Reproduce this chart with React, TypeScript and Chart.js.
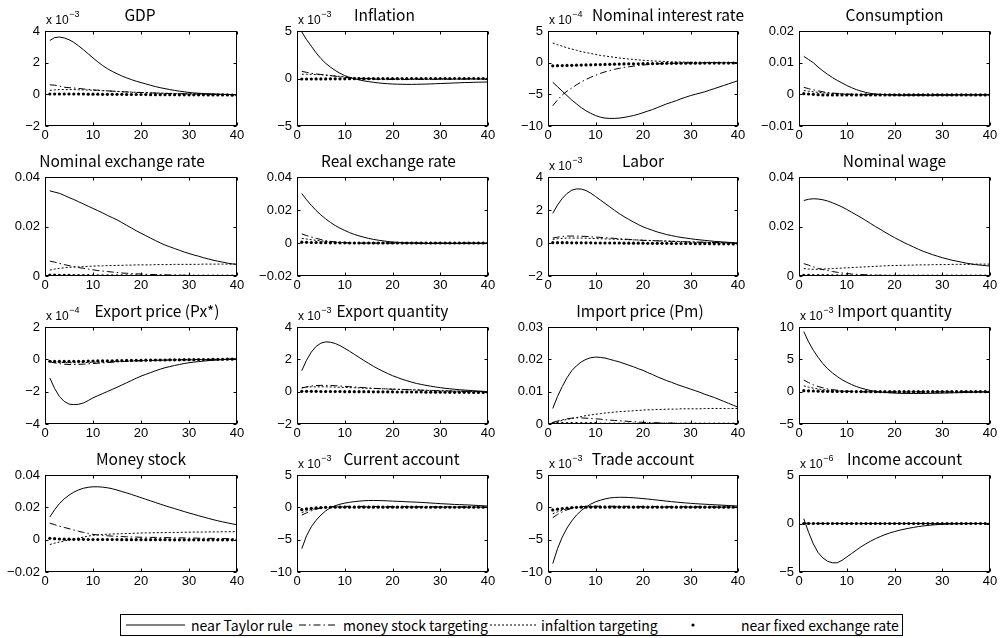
import React, { useEffect, useRef } from "react";
import { Chart, registerables } from "chart.js";

Chart.register(...registerables);

// ---------------- data ----------------
const periods = [1, 2, 3, 4, 5, 6, 7, 8, 9, 10, 11, 12, 13, 14, 15, 16, 17, 18, 19, 20, 21, 22, 23, 24, 25, 26, 27, 28, 29, 30, 31, 32, 33, 34, 35, 36, 37, 38, 39, 40];
const xTicks = [0, 10, 20, 30, 40];

const seriesNames = ["near Taylor rule", "money stock targeting", "infaltion targeting", "near fixed exchange rate"];

// GDP (x 10^-3)
const gdpTicks = [-2, 0, 2, 4];
const gdpTaylor = [3.40, 3.58, 3.62, 3.56, 3.45, 3.28, 3.06, 2.82, 2.56, 2.30, 2.05, 1.82, 1.62, 1.45, 1.30, 1.16, 1.04, 0.93, 0.83, 0.74, 0.66, 0.57, 0.49, 0.42, 0.36, 0.30, 0.25, 0.20, 0.16, 0.12, 0.09, 0.07, 0.05, 0.03, 0.02, 0.01, 0.00, -0.01, -0.02, -0.03];
const gdpMoney = [0.60, 0.58, 0.52, 0.45, 0.42, 0.40, 0.37, 0.34, 0.31, 0.28, 0.26, 0.24, 0.22, 0.20, 0.18, 0.16, 0.15, 0.13, 0.12, 0.11, 0.10, 0.09, 0.08, 0.07, 0.06, 0.05, 0.05, 0.04, 0.03, 0.03, 0.02, 0.02, 0.01, 0.01, 0.00, 0.00, -0.01, -0.01, -0.02, -0.02];
const gdpInfl = [0.25, 0.28, 0.30, 0.30, 0.30, 0.30, 0.29, 0.28, 0.27, 0.26, 0.25, 0.23, 0.22, 0.20, 0.19, 0.17, 0.16, 0.14, 0.13, 0.12, 0.11, 0.10, 0.09, 0.08, 0.07, 0.06, 0.05, 0.04, 0.04, 0.03, 0.03, 0.02, 0.02, 0.01, 0.01, 0.00, 0.00, -0.01, -0.01, -0.02];
const gdpFixed = [0.02, 0.02, 0.02, 0.02, 0.02, 0.02, 0.02, 0.02, 0.01, 0.01, 0.01, 0.00, 0.00, 0.00, 0.00, 0.00, -0.01, -0.01, -0.01, -0.01, -0.01, -0.02, -0.02, -0.02, -0.02, -0.02, -0.02, -0.03, -0.03, -0.03, -0.03, -0.03, -0.03, -0.04, -0.04, -0.04, -0.04, -0.04, -0.05, -0.05];

// Inflation (x 10^-3)
const inflTicks = [-5, 0, 5];
const inflTaylor = [4.90, 4.10, 3.40, 2.70, 2.10, 1.60, 1.20, 0.85, 0.55, 0.30, 0.12, -0.02, -0.14, -0.25, -0.33, -0.40, -0.46, -0.51, -0.55, -0.58, -0.60, -0.61, -0.62, -0.62, -0.61, -0.60, -0.59, -0.57, -0.55, -0.53, -0.51, -0.49, -0.47, -0.45, -0.43, -0.42, -0.40, -0.39, -0.38, -0.37];
const inflMoney = [0.75, 0.65, 0.55, 0.48, 0.42, 0.36, 0.30, 0.24, 0.18, 0.12, 0.07, 0.03, 0.00, -0.03, -0.05, -0.07, -0.08, -0.09, -0.10, -0.10, -0.10, -0.10, -0.10, -0.10, -0.10, -0.10, -0.09, -0.09, -0.09, -0.08, -0.08, -0.08, -0.07, -0.07, -0.07, -0.06, -0.06, -0.06, -0.05, -0.05];
const inflInfl = [0.45, 0.45, 0.44, 0.42, 0.40, 0.36, 0.32, 0.27, 0.22, 0.17, 0.12, 0.08, 0.05, 0.02, 0.00, -0.02, -0.03, -0.04, -0.04, -0.05, -0.05, -0.05, -0.05, -0.05, -0.05, -0.05, -0.05, -0.04, -0.04, -0.04, -0.04, -0.04, -0.03, -0.03, -0.03, -0.03, -0.03, -0.02, -0.02, -0.02];
const inflFixed = [-0.05, -0.05, -0.05, -0.04, -0.04, -0.04, -0.03, -0.03, -0.03, -0.03, -0.02, -0.02, -0.02, -0.02, -0.02, -0.01, -0.01, -0.01, -0.01, -0.01, -0.01, -0.01, -0.01, 0.00, 0.00, 0.00, 0.00, 0.00, 0.00, 0.00, 0.00, 0.00, 0.00, 0.00, 0.00, 0.00, 0.00, 0.00, 0.00, 0.00];

// Nominal interest rate (x 10^-4)
const nirTicks = [-10, -5, 0, 5];
const nirTaylor = [-3.10, -3.80, -4.50, -5.20, -5.90, -6.50, -7.10, -7.60, -8.00, -8.35, -8.60, -8.75, -8.80, -8.80, -8.75, -8.65, -8.50, -8.35, -8.15, -7.90, -7.65, -7.40, -7.10, -6.80, -6.50, -6.25, -6.00, -5.70, -5.45, -5.20, -5.00, -4.80, -4.60, -4.35, -4.10, -3.85, -3.60, -3.35, -3.10, -2.85];
const nirMoney = [-6.80, -5.90, -5.10, -4.50, -4.00, -3.50, -3.05, -2.65, -2.30, -2.00, -1.70, -1.45, -1.25, -1.05, -0.90, -0.75, -0.65, -0.55, -0.45, -0.38, -0.30, -0.25, -0.20, -0.15, -0.12, -0.10, -0.08, -0.06, -0.05, -0.04, -0.03, -0.03, -0.02, -0.02, -0.02, -0.01, -0.01, -0.01, -0.01, 0.00];
const nirInfl = [3.10, 2.85, 2.60, 2.35, 2.15, 1.95, 1.75, 1.60, 1.45, 1.30, 1.15, 1.05, 0.95, 0.85, 0.75, 0.65, 0.58, 0.50, 0.44, 0.38, 0.33, 0.28, 0.24, 0.20, 0.17, 0.14, 0.12, 0.10, 0.08, 0.06, 0.05, 0.04, 0.03, 0.03, 0.02, 0.02, 0.01, 0.01, 0.01, 0.00];
const nirFixed = [-0.50, -0.48, -0.46, -0.44, -0.42, -0.40, -0.38, -0.36, -0.34, -0.32, -0.30, -0.28, -0.26, -0.24, -0.22, -0.20, -0.19, -0.18, -0.17, -0.16, -0.15, -0.14, -0.13, -0.12, -0.11, -0.10, -0.10, -0.09, -0.09, -0.08, -0.08, -0.08, -0.07, -0.07, -0.07, -0.06, -0.06, -0.06, -0.05, -0.05];

// Consumption
const consTicks = [-0.01, 0, 0.01, 0.02];
const consTaylor = [0.0120, 0.0110, 0.0100, 0.0086, 0.0074, 0.0063, 0.0053, 0.0044, 0.0036, 0.0028, 0.0021, 0.0015, 0.0010, 0.0006, 0.0003, 0.0001, 0.0000, -0.0001, -0.0002, -0.0002, -0.0003, -0.0003, -0.0003, -0.0003, -0.0003, -0.0003, -0.0003, -0.0003, -0.0003, -0.0003, -0.0003, -0.0003, -0.0002, -0.0002, -0.0002, -0.0002, -0.0002, -0.0002, -0.0002, -0.0002];
const consMoney = [0.0022, 0.0018, 0.0014, 0.0011, 0.0008, 0.0006, 0.0004, 0.0003, 0.0002, 0.0001, 0.0000, 0.0000, -0.0001, -0.0001, -0.0001, -0.0001, -0.0001, -0.0001, -0.0001, -0.0001, -0.0001, -0.0001, -0.0001, -0.0001, -0.0001, -0.0001, -0.0001, -0.0001, -0.0001, -0.0001, -0.0001, -0.0001, -0.0001, -0.0001, -0.0001, -0.0001, -0.0001, -0.0001, -0.0001, -0.0001];
const consInfl = [0.0012, 0.0010, 0.0008, 0.0006, 0.0005, 0.0004, 0.0003, 0.0002, 0.0001, 0.0000, 0.0000, -0.0001, -0.0001, -0.0001, -0.0001, -0.0001, -0.0001, -0.0001, -0.0001, -0.0001, -0.0001, -0.0001, -0.0001, -0.0001, -0.0001, -0.0001, -0.0001, -0.0001, -0.0001, -0.0001, -0.0001, -0.0001, -0.0001, -0.0001, -0.0001, -0.0001, -0.0001, -0.0001, -0.0001, -0.0001];
const consFixed = [0.0002, 0.0001, 0.0000, -0.0001, -0.0002, -0.0002, -0.0002, -0.0002, -0.0002, -0.0002, -0.0002, -0.0002, -0.0002, -0.0002, -0.0002, -0.0002, -0.0002, -0.0002, -0.0002, -0.0002, -0.0002, -0.0002, -0.0002, -0.0002, -0.0002, -0.0002, -0.0002, -0.0002, -0.0002, -0.0002, -0.0002, -0.0002, -0.0002, -0.0002, -0.0002, -0.0002, -0.0002, -0.0002, -0.0002, -0.0002];

// Nominal exchange rate
const nerTicks = [0, 0.02, 0.04];
const nerTaylor = [0.0344, 0.0339, 0.0334, 0.0326, 0.0317, 0.0309, 0.0300, 0.0291, 0.0282, 0.0273, 0.0264, 0.0255, 0.0245, 0.0236, 0.0227, 0.0216, 0.0205, 0.0194, 0.0183, 0.0173, 0.0163, 0.0153, 0.0143, 0.0134, 0.0125, 0.0118, 0.0111, 0.0104, 0.0097, 0.0091, 0.0085, 0.0080, 0.0074, 0.0069, 0.0064, 0.0060, 0.0056, 0.0052, 0.0049, 0.0047];
const nerMoney = [0.0060, 0.0056, 0.0051, 0.0046, 0.0042, 0.0038, 0.0034, 0.0031, 0.0028, 0.0025, 0.0022, 0.0020, 0.0018, 0.0016, 0.0014, 0.0012, 0.0011, 0.0010, 0.0009, 0.0008, 0.0007, 0.0006, 0.0006, 0.0005, 0.0005, 0.0004, 0.0004, 0.0003, 0.0003, 0.0003, 0.0002, 0.0002, 0.0002, 0.0002, 0.0002, 0.0001, 0.0001, 0.0001, 0.0001, 0.0001];
const nerInfl = [0.0024, 0.0028, 0.0031, 0.0033, 0.0035, 0.0036, 0.0037, 0.0038, 0.0039, 0.0040, 0.0041, 0.0041, 0.0042, 0.0042, 0.0043, 0.0043, 0.0044, 0.0044, 0.0045, 0.0045, 0.0045, 0.0045, 0.0046, 0.0046, 0.0046, 0.0046, 0.0047, 0.0047, 0.0047, 0.0047, 0.0047, 0.0047, 0.0048, 0.0048, 0.0048, 0.0048, 0.0048, 0.0048, 0.0048, 0.0048];
const nerFixed = [0.0004, 0.0004, 0.0003, 0.0003, 0.0003, 0.0002, 0.0002, 0.0002, 0.0002, 0.0001, 0.0001, 0.0001, 0.0001, 0.0001, 0.0001, 0.0001, 0.0001, 0.0001, 0.0001, 0.0001, 0, 0, 0, 0, 0, 0, 0, 0, 0, 0, 0, 0, 0, 0, 0, 0, 0, 0, 0, 0];

// Real exchange rate
const rerTicks = [-0.02, 0, 0.02, 0.04];
const rerTaylor = [0.0300, 0.0262, 0.0228, 0.0197, 0.0170, 0.0146, 0.0125, 0.0106, 0.0090, 0.0076, 0.0063, 0.0052, 0.0043, 0.0035, 0.0028, 0.0022, 0.0017, 0.0013, 0.0009, 0.0006, 0.0004, 0.0002, 0.0001, 0.0000, -0.0001, -0.0002, -0.0002, -0.0003, -0.0003, -0.0003, -0.0003, -0.0003, -0.0003, -0.0003, -0.0003, -0.0002, -0.0002, -0.0002, -0.0002, -0.0002];
const rerMoney = [0.0055, 0.0045, 0.0036, 0.0028, 0.0021, 0.0015, 0.0010, 0.0006, 0.0003, 0.0001, 0.0000, -0.0001, -0.0001, -0.0001, -0.0001, -0.0001, -0.0001, -0.0001, -0.0001, -0.0001, -0.0001, -0.0001, -0.0001, -0.0001, -0.0001, -0.0001, -0.0001, -0.0001, -0.0001, -0.0001, -0.0001, -0.0001, -0.0001, -0.0001, -0.0001, -0.0001, -0.0001, -0.0001, -0.0001, -0.0001];
const rerInfl = [0.0028, 0.0024, 0.0020, 0.0016, 0.0013, 0.0010, 0.0007, 0.0005, 0.0003, 0.0002, 0.0001, 0, 0, 0, 0, 0, 0, 0, 0, 0, 0, 0, 0, 0, 0, 0, 0, 0, 0, 0, 0, 0, 0, 0, 0, 0, 0, 0, 0, 0];
const rerFixed = [0.0005, 0.0004, 0.0003, 0.0003, 0.0002, 0.0002, 0.0001, 0.0001, 0.0001, 0.0001, 0, 0, 0, 0, 0, 0, 0, 0, 0, 0, 0, 0, 0, 0, 0, 0, 0, 0, 0, 0, 0, 0, 0, 0, 0, 0, 0, 0, 0, 0];

// Labor (x 10^-3)
const labTicks = [-2, 0, 2, 4];
const labTaylor = [1.80, 2.30, 2.70, 3.00, 3.20, 3.28, 3.27, 3.18, 3.02, 2.82, 2.61, 2.40, 2.19, 1.98, 1.78, 1.60, 1.43, 1.27, 1.12, 0.98, 0.87, 0.77, 0.67, 0.59, 0.51, 0.45, 0.39, 0.34, 0.30, 0.26, 0.22, 0.19, 0.16, 0.13, 0.10, 0.08, 0.06, 0.04, 0.02, 0.00];
const labMoney = [0.30, 0.35, 0.40, 0.42, 0.42, 0.42, 0.41, 0.40, 0.38, 0.36, 0.34, 0.32, 0.30, 0.28, 0.26, 0.24, 0.22, 0.20, 0.18, 0.16, 0.15, 0.14, 0.13, 0.12, 0.11, 0.10, 0.09, 0.08, 0.07, 0.06, 0.05, 0.05, 0.04, 0.03, 0.03, 0.02, 0.01, 0.01, 0.00, 0.00];
const labInfl = [0.22, 0.26, 0.28, 0.30, 0.30, 0.30, 0.30, 0.29, 0.28, 0.27, 0.26, 0.25, 0.24, 0.23, 0.22, 0.21, 0.20, 0.19, 0.18, 0.17, 0.16, 0.15, 0.14, 0.13, 0.12, 0.11, 0.10, 0.09, 0.08, 0.07, 0.06, 0.05, 0.05, 0.04, 0.03, 0.03, 0.02, 0.01, 0.01, 0.00];
const labFixed = [0.02, 0.02, 0.02, 0.02, 0.01, 0.01, 0.01, 0.01, 0.01, 0.00, 0.00, 0.00, 0.00, 0.00, 0.00, -0.01, -0.01, -0.01, -0.01, -0.01, -0.02, -0.02, -0.02, -0.02, -0.02, -0.03, -0.03, -0.03, -0.03, -0.03, -0.04, -0.04, -0.04, -0.04, -0.05, -0.05, -0.05, -0.05, -0.06, -0.06];

// Nominal wage
const nwTicks = [0, 0.02, 0.04];
const nwTaylor = [0.0305, 0.0310, 0.0312, 0.0311, 0.0308, 0.0303, 0.0296, 0.0288, 0.0279, 0.0269, 0.0258, 0.0247, 0.0236, 0.0224, 0.0212, 0.0200, 0.0189, 0.0177, 0.0166, 0.0155, 0.0145, 0.0135, 0.0126, 0.0117, 0.0108, 0.0100, 0.0093, 0.0086, 0.0080, 0.0074, 0.0069, 0.0064, 0.0060, 0.0056, 0.0052, 0.0049, 0.0046, 0.0044, 0.0042, 0.0040];
const nwMoney = [0.0050, 0.0044, 0.0037, 0.0031, 0.0026, 0.0022, 0.0018, 0.0015, 0.0012, 0.0010, 0.0008, 0.0007, 0.0006, 0.0005, 0.0004, 0.0003, 0.0003, 0.0003, 0.0002, 0.0002, 0.0002, 0.0002, 0.0002, 0.0001, 0.0001, 0.0001, 0.0001, 0.0001, 0.0001, 0.0001, 0.0001, 0.0001, 0.0001, 0.0001, 0.0001, 0.0001, 0.0001, 0.0001, 0.0001, 0.0001];
const nwInfl = [0.0030, 0.0028, 0.0027, 0.0027, 0.0028, 0.0029, 0.0030, 0.0031, 0.0032, 0.0033, 0.0034, 0.0035, 0.0036, 0.0037, 0.0038, 0.0039, 0.0040, 0.0041, 0.0042, 0.0042, 0.0043, 0.0043, 0.0044, 0.0044, 0.0045, 0.0045, 0.0045, 0.0046, 0.0046, 0.0046, 0.0046, 0.0047, 0.0047, 0.0047, 0.0047, 0.0047, 0.0048, 0.0048, 0.0048, 0.0048];
const nwFixed = [0.0003, 0.0003, 0.0002, 0.0002, 0.0002, 0.0002, 0.0001, 0.0001, 0.0001, 0.0001, 0, 0, 0, 0, 0, 0, 0, 0, 0, 0, 0, 0, 0, 0, 0, 0, 0, 0, 0, 0, 0, 0, 0, 0, 0, 0, 0, 0, 0, 0];

// Export price Px* (x 10^-4)
const epTicks = [-4, -2, 0, 2];
const epTaylor = [-1.15, -1.80, -2.30, -2.60, -2.77, -2.80, -2.78, -2.70, -2.55, -2.38, -2.25, -2.12, -1.99, -1.86, -1.73, -1.59, -1.45, -1.31, -1.17, -1.04, -0.93, -0.82, -0.71, -0.61, -0.52, -0.45, -0.38, -0.32, -0.26, -0.21, -0.17, -0.14, -0.11, -0.08, -0.06, -0.04, -0.02, 0.00, 0.02, 0.04];
const epMoney = [-0.15, -0.22, -0.27, -0.30, -0.32, -0.32, -0.31, -0.30, -0.28, -0.26, -0.24, -0.22, -0.20, -0.18, -0.16, -0.14, -0.12, -0.11, -0.10, -0.09, -0.08, -0.07, -0.06, -0.05, -0.04, -0.04, -0.03, -0.03, -0.02, -0.02, -0.01, -0.01, -0.01, 0.00, 0.00, 0.00, 0.00, 0.00, 0.01, 0.01];
const epInfl = [-0.10, -0.15, -0.18, -0.20, -0.21, -0.21, -0.21, -0.20, -0.19, -0.18, -0.17, -0.16, -0.15, -0.14, -0.13, -0.12, -0.11, -0.10, -0.09, -0.08, -0.07, -0.07, -0.06, -0.06, -0.05, -0.05, -0.04, -0.04, -0.03, -0.03, -0.03, -0.02, -0.02, -0.02, -0.01, -0.01, -0.01, 0.00, 0.00, 0.00];
const epFixed = [-0.12, -0.13, -0.13, -0.13, -0.13, -0.12, -0.12, -0.12, -0.11, -0.11, -0.10, -0.10, -0.09, -0.09, -0.08, -0.08, -0.07, -0.07, -0.06, -0.06, -0.05, -0.05, -0.04, -0.04, -0.04, -0.03, -0.03, -0.03, -0.02, -0.02, -0.02, -0.01, -0.01, -0.01, 0.00, 0.00, 0.00, 0.01, 0.01, 0.01];

// Export quantity (x 10^-3)
const eqTicks = [-2, 0, 2, 4];
const eqTaylor = [1.30, 1.95, 2.45, 2.80, 3.00, 3.08, 3.06, 2.98, 2.85, 2.68, 2.50, 2.31, 2.12, 1.93, 1.75, 1.57, 1.41, 1.26, 1.12, 0.99, 0.88, 0.77, 0.68, 0.59, 0.51, 0.45, 0.39, 0.34, 0.29, 0.25, 0.21, 0.18, 0.15, 0.12, 0.10, 0.08, 0.06, 0.04, 0.02, 0.00];
const eqMoney = [0.22, 0.30, 0.35, 0.38, 0.39, 0.39, 0.38, 0.37, 0.35, 0.33, 0.31, 0.29, 0.27, 0.25, 0.23, 0.21, 0.19, 0.18, 0.16, 0.15, 0.14, 0.13, 0.12, 0.11, 0.10, 0.09, 0.08, 0.07, 0.06, 0.05, 0.05, 0.04, 0.03, 0.03, 0.02, 0.02, 0.01, 0.01, 0.00, 0.00];
const eqInfl = [0.25, 0.28, 0.30, 0.30, 0.30, 0.30, 0.29, 0.28, 0.27, 0.26, 0.25, 0.24, 0.23, 0.22, 0.21, 0.20, 0.19, 0.18, 0.17, 0.16, 0.15, 0.14, 0.13, 0.12, 0.11, 0.10, 0.09, 0.08, 0.07, 0.06, 0.06, 0.05, 0.04, 0.04, 0.03, 0.03, 0.02, 0.01, 0.01, 0.00];
const eqFixed = [0.02, 0.02, 0.02, 0.02, 0.01, 0.01, 0.01, 0.01, 0.01, 0.00, 0.00, 0.00, 0.00, 0.00, 0.00, -0.01, -0.01, -0.01, -0.01, -0.01, -0.02, -0.02, -0.02, -0.02, -0.02, -0.02, -0.03, -0.03, -0.03, -0.03, -0.03, -0.04, -0.04, -0.04, -0.04, -0.04, -0.05, -0.05, -0.05, -0.05];

// Import price Pm
const ipTicks = [0, 0.01, 0.02, 0.03];
const ipTaylor = [0.0048, 0.0085, 0.0116, 0.0143, 0.0165, 0.0180, 0.0192, 0.0200, 0.0205, 0.0207, 0.0206, 0.0204, 0.0200, 0.0196, 0.0192, 0.0187, 0.0182, 0.0177, 0.0171, 0.0166, 0.0159, 0.0153, 0.0146, 0.0140, 0.0134, 0.0129, 0.0123, 0.0118, 0.0113, 0.0108, 0.0103, 0.0098, 0.0092, 0.0087, 0.0082, 0.0076, 0.0070, 0.0064, 0.0058, 0.0052];
const ipMoney = [0.0005, 0.0009, 0.0013, 0.0016, 0.0018, 0.0019, 0.0019, 0.0018, 0.0017, 0.0016, 0.0015, 0.0013, 0.0012, 0.0011, 0.0010, 0.0009, 0.0008, 0.0007, 0.0006, 0.0005, 0.0005, 0.0004, 0.0004, 0.0003, 0.0003, 0.0003, 0.0002, 0.0002, 0.0002, 0.0002, 0.0001, 0.0001, 0.0001, 0.0001, 0.0001, 0.0001, 0.0001, 0.0000, 0.0000, 0.0000];
const ipInfl = [0.0003, 0.0007, 0.0011, 0.0014, 0.0017, 0.0020, 0.0023, 0.0026, 0.0028, 0.0030, 0.0032, 0.0034, 0.0035, 0.0037, 0.0038, 0.0039, 0.0040, 0.0041, 0.0042, 0.0043, 0.0044, 0.0044, 0.0045, 0.0045, 0.0046, 0.0046, 0.0046, 0.0047, 0.0047, 0.0047, 0.0047, 0.0047, 0.0048, 0.0048, 0.0048, 0.0048, 0.0048, 0.0048, 0.0048, 0.0048];
const ipFixed = [0.0001, 0.0001, 0.0001, 0.0001, 0.0001, 0.0001, 0.0001, 0.0001, 0.0001, 0.0001, 0, 0, 0, 0, 0, 0, 0, 0, 0, 0, 0, 0, 0, 0, 0, 0, 0, 0, 0, 0, 0, 0, 0, 0, 0, 0, 0, 0, 0, 0];

// Import quantity (x 10^-3)
const iqTicks = [-5, 0, 5, 10];
const iqTaylor = [9.30, 7.70, 6.40, 5.30, 4.35, 3.55, 2.90, 2.35, 1.85, 1.45, 1.10, 0.80, 0.55, 0.35, 0.18, 0.05, -0.05, -0.12, -0.18, -0.22, -0.25, -0.27, -0.28, -0.28, -0.28, -0.27, -0.26, -0.25, -0.24, -0.22, -0.20, -0.18, -0.16, -0.14, -0.12, -0.10, -0.08, -0.07, -0.06, -0.05];
const iqMoney = [1.80, 1.40, 1.05, 0.80, 0.60, 0.45, 0.32, 0.22, 0.14, 0.08, 0.04, 0.00, -0.02, -0.04, -0.05, -0.06, -0.06, -0.06, -0.06, -0.06, -0.05, -0.05, -0.05, -0.05, -0.04, -0.04, -0.04, -0.04, -0.03, -0.03, -0.03, -0.03, -0.02, -0.02, -0.02, -0.02, -0.01, -0.01, -0.01, -0.01];
const iqInfl = [0.90, 0.70, 0.55, 0.42, 0.32, 0.24, 0.17, 0.12, 0.08, 0.05, 0.02, 0.00, -0.01, -0.02, -0.03, -0.03, -0.03, -0.03, -0.03, -0.03, -0.03, -0.03, -0.03, -0.02, -0.02, -0.02, -0.02, -0.02, -0.02, -0.02, -0.01, -0.01, -0.01, -0.01, -0.01, -0.01, -0.01, 0.00, 0.00, 0.00];
const iqFixed = [0.15, 0.12, 0.10, 0.08, 0.06, 0.05, 0.04, 0.03, 0.02, 0.02, 0.01, 0.01, 0.01, 0, 0, 0, 0, 0, 0, 0, 0, 0, 0, 0, 0, 0, 0, 0, 0, 0, 0, 0, 0, 0, 0, 0, 0, 0, 0, 0];

// Money stock
const msTicks = [-0.02, 0, 0.02, 0.04];
const msTaylor = [0.0140, 0.0185, 0.0223, 0.0252, 0.0275, 0.0294, 0.0308, 0.0318, 0.0324, 0.0327, 0.0327, 0.0325, 0.0321, 0.0315, 0.0307, 0.0298, 0.0289, 0.0280, 0.0270, 0.0260, 0.0250, 0.0240, 0.0230, 0.0220, 0.0210, 0.0201, 0.0192, 0.0183, 0.0174, 0.0165, 0.0157, 0.0148, 0.0140, 0.0132, 0.0124, 0.0117, 0.0110, 0.0104, 0.0098, 0.0092];
const msMoney = [0.0102, 0.0093, 0.0084, 0.0076, 0.0068, 0.0060, 0.0052, 0.0045, 0.0038, 0.0033, 0.0029, 0.0026, 0.0024, 0.0022, 0.0020, 0.0019, 0.0018, 0.0017, 0.0016, 0.0015, 0.0015, 0.0014, 0.0014, 0.0013, 0.0013, 0.0012, 0.0012, 0.0011, 0.0011, 0.0010, 0.0010, 0.0009, 0.0009, 0.0008, 0.0008, 0.0007, 0.0007, 0.0006, 0.0006, 0.0005];
const msInfl = [-0.0030, -0.0022, -0.0015, -0.0008, -0.0002, 0.0004, 0.0010, 0.0016, 0.0022, 0.0027, 0.0030, 0.0032, 0.0034, 0.0035, 0.0036, 0.0037, 0.0038, 0.0039, 0.0040, 0.0041, 0.0042, 0.0042, 0.0043, 0.0043, 0.0044, 0.0044, 0.0045, 0.0045, 0.0046, 0.0046, 0.0047, 0.0047, 0.0047, 0.0048, 0.0048, 0.0048, 0.0049, 0.0049, 0.0049, 0.0050];
const msFixed = [0.0008, 0.0006, 0.0004, 0.0003, 0.0003, 0.0002, 0.0002, 0.0002, 0.0001, 0.0001, 0.0001, 0.0001, 0.0001, 0.0001, 0.0001, 0, 0, 0, 0, 0, 0, 0, 0, 0, 0, -0.0001, -0.0001, -0.0001, -0.0001, -0.0001, -0.0001, -0.0001, -0.0001, -0.0001, -0.0001, -0.0001, -0.0001, -0.0001, -0.0001, -0.0001];

// Current account (x 10^-3)
const caTicks = [-10, -5, 0, 5];
const caTaylor = [-6.40, -4.40, -3.00, -2.00, -1.20, -0.55, -0.05, 0.25, 0.48, 0.65, 0.78, 0.88, 0.96, 1.02, 1.05, 1.06, 1.05, 1.03, 1.00, 0.96, 0.93, 0.90, 0.86, 0.83, 0.80, 0.76, 0.72, 0.67, 0.62, 0.57, 0.53, 0.49, 0.45, 0.42, 0.39, 0.36, 0.32, 0.28, 0.24, 0.20];
const caMoney = [-1.20, -0.85, -0.55, -0.30, -0.10, 0.02, 0.08, 0.12, 0.14, 0.15, 0.15, 0.15, 0.15, 0.15, 0.14, 0.14, 0.14, 0.13, 0.13, 0.13, 0.12, 0.12, 0.11, 0.11, 0.10, 0.10, 0.09, 0.09, 0.08, 0.08, 0.07, 0.07, 0.07, 0.06, 0.06, 0.06, 0.05, 0.05, 0.05, 0.05];
const caInfl = [-0.80, -0.55, -0.35, -0.20, -0.08, 0.00, 0.04, 0.06, 0.07, 0.08, 0.08, 0.08, 0.08, 0.08, 0.08, 0.08, 0.07, 0.07, 0.07, 0.07, 0.06, 0.06, 0.06, 0.06, 0.05, 0.05, 0.05, 0.05, 0.05, 0.04, 0.04, 0.04, 0.04, 0.04, 0.03, 0.03, 0.03, 0.03, 0.03, 0.03];
const caFixed = [-0.35, -0.25, -0.15, -0.08, -0.03, 0.00, 0.01, 0.02, 0.02, 0.02, 0.02, 0.02, 0.02, 0.02, 0.02, 0.02, 0.02, 0.02, 0.02, 0.02, 0.02, 0.02, 0.02, 0.02, 0.02, 0.01, 0.01, 0.01, 0.01, 0.01, 0.01, 0.01, 0.01, 0.01, 0.01, 0.01, 0.01, 0.01, 0.01, 0.01];

// Trade account (x 10^-3)
const taTicks = [-10, -5, 0, 5];
const taTaylor = [-8.70, -6.40, -4.60, -3.20, -2.10, -1.20, -0.50, 0.05, 0.50, 0.85, 1.10, 1.30, 1.45, 1.52, 1.55, 1.55, 1.52, 1.48, 1.42, 1.35, 1.28, 1.20, 1.12, 1.04, 0.96, 0.88, 0.81, 0.74, 0.68, 0.62, 0.57, 0.52, 0.48, 0.44, 0.40, 0.36, 0.32, 0.28, 0.24, 0.20];
const taMoney = [-1.60, -1.10, -0.70, -0.40, -0.15, 0.00, 0.10, 0.15, 0.17, 0.18, 0.18, 0.18, 0.17, 0.17, 0.16, 0.16, 0.15, 0.15, 0.14, 0.14, 0.13, 0.13, 0.12, 0.12, 0.11, 0.11, 0.10, 0.10, 0.09, 0.09, 0.08, 0.08, 0.07, 0.07, 0.07, 0.06, 0.06, 0.06, 0.05, 0.05];
const taInfl = [-1.00, -0.70, -0.45, -0.25, -0.10, 0.00, 0.05, 0.08, 0.09, 0.10, 0.10, 0.10, 0.10, 0.09, 0.09, 0.09, 0.08, 0.08, 0.08, 0.07, 0.07, 0.07, 0.06, 0.06, 0.06, 0.06, 0.05, 0.05, 0.05, 0.05, 0.04, 0.04, 0.04, 0.04, 0.04, 0.03, 0.03, 0.03, 0.03, 0.03];
const taFixed = [-0.40, -0.28, -0.18, -0.10, -0.04, 0.00, 0.02, 0.03, 0.03, 0.03, 0.03, 0.03, 0.03, 0.03, 0.03, 0.03, 0.03, 0.03, 0.03, 0.03, 0.02, 0.02, 0.02, 0.02, 0.02, 0.02, 0.02, 0.02, 0.02, 0.02, 0.02, 0.02, 0.02, 0.02, 0.02, 0.02, 0.02, 0.02, 0.02, 0.02];

// Income account (x 10^-6)
const iaTicks = [-5, 0, 5];
const iaTaylor = [0.50, -0.90, -2.10, -3.00, -3.55, -3.90, -4.05, -4.05, -3.80, -3.45, -3.10, -2.75, -2.40, -2.10, -1.82, -1.57, -1.35, -1.15, -0.98, -0.83, -0.70, -0.59, -0.49, -0.40, -0.32, -0.25, -0.20, -0.15, -0.11, -0.08, -0.06, -0.04, -0.03, -0.02, -0.01, -0.01, 0.00, 0.00, 0.00, 0.00];
const iaMoney = [0.02, 0.02, 0.01, 0.01, 0.01, 0.01, 0.01, 0, 0, 0, 0, 0, 0, 0, 0, 0, 0, 0, 0, 0, 0, 0, 0, 0, 0, 0, 0, 0, 0, 0, 0, 0, 0, 0, 0, 0, 0, 0, 0, 0];
const iaInfl = [0.01, 0.01, 0.01, 0.01, 0, 0, 0, 0, 0, 0, 0, 0, 0, 0, 0, 0, 0, 0, 0, 0, 0, 0, 0, 0, 0, 0, 0, 0, 0, 0, 0, 0, 0, 0, 0, 0, 0, 0, 0, 0];
const iaFixed = [0, 0, 0, 0, 0, 0, 0, 0, 0, 0, 0, 0, 0, 0, 0, 0, 0, 0, 0, 0, 0, 0, 0, 0, 0, 0, 0, 0, 0, 0, 0, 0, 0, 0, 0, 0, 0, 0, 0, 0];

type PanelDef = { title: string; exp: string | null; ticks: number[]; series: number[][] };

const panels: PanelDef[] = [
  { title: "GDP", exp: "-3", ticks: gdpTicks, series: [gdpTaylor, gdpMoney, gdpInfl, gdpFixed] },
  { title: "Inflation", exp: "-3", ticks: inflTicks, series: [inflTaylor, inflMoney, inflInfl, inflFixed] },
  { title: "Nominal interest rate", exp: "-4", ticks: nirTicks, series: [nirTaylor, nirMoney, nirInfl, nirFixed] },
  { title: "Consumption", exp: null, ticks: consTicks, series: [consTaylor, consMoney, consInfl, consFixed] },
  { title: "Nominal exchange rate", exp: null, ticks: nerTicks, series: [nerTaylor, nerMoney, nerInfl, nerFixed] },
  { title: "Real exchange rate", exp: null, ticks: rerTicks, series: [rerTaylor, rerMoney, rerInfl, rerFixed] },
  { title: "Labor", exp: "-3", ticks: labTicks, series: [labTaylor, labMoney, labInfl, labFixed] },
  { title: "Nominal wage", exp: null, ticks: nwTicks, series: [nwTaylor, nwMoney, nwInfl, nwFixed] },
  { title: "Export price (Px*)", exp: "-4", ticks: epTicks, series: [epTaylor, epMoney, epInfl, epFixed] },
  { title: "Export quantity", exp: "-3", ticks: eqTicks, series: [eqTaylor, eqMoney, eqInfl, eqFixed] },
  { title: "Import price (Pm)", exp: null, ticks: ipTicks, series: [ipTaylor, ipMoney, ipInfl, ipFixed] },
  { title: "Import quantity", exp: "-3", ticks: iqTicks, series: [iqTaylor, iqMoney, iqInfl, iqFixed] },
  { title: "Money stock", exp: null, ticks: msTicks, series: [msTaylor, msMoney, msInfl, msFixed] },
  { title: "Current account", exp: "-3", ticks: caTicks, series: [caTaylor, caMoney, caInfl, caFixed] },
  { title: "Trade account", exp: "-3", ticks: taTicks, series: [taTaylor, taMoney, taInfl, taFixed] },
  { title: "Income account", exp: "-6", ticks: iaTicks, series: [iaTaylor, iaMoney, iaInfl, iaFixed] },
];

// ---------------- layout ----------------
const colLeft = [45, 297, 548, 799];
const colRight = [237, 488, 738, 990];
const rowTop = [31, 177, 327, 475];
const rowBottom = [126, 276, 424, 572];
const titleShift = [-1, -8, 25, 0, -19, -4, 0, 0, 16, 0, -3, 0, 0, 9, 0, 10];

const PADL = 50;
const PADR = 14;
const PADT = 34;
const PADB = 22;

const TICK_FONT = "'Liberation Sans', Arial, sans-serif";
const TITLE_FONT = "'Noto Sans CJK JP', 'Liberation Sans', sans-serif";

function fmt(v: number): string {
  const s = String(Math.round(v * 1e6) / 1e6);
  return s.replace("-", "\u2212");
}

function PanelChart({ p, idx, left, top, w, h }: { p: PanelDef; idx: number; left: number; top: number; w: number; h: number }) {
  const ref = useRef<HTMLCanvasElement>(null);
  useEffect(() => {
    const frame = {
      id: "frame" + idx,
      afterDraw(chart: any) {
        const { ctx, chartArea } = chart;
        const l = Math.round(chartArea.left) + 0.5;
        const r = Math.round(chartArea.right) - 0.5;
        const t = Math.round(chartArea.top) + 0.5;
        const b = Math.round(chartArea.bottom) - 0.5;
        ctx.save();
        ctx.strokeStyle = "#000";
        ctx.lineWidth = 1;
        ctx.setLineDash([]);
        ctx.strokeRect(l, t, r - l, b - t);
        const xs = chart.scales.x;
        const ys = chart.scales.y;
        const TL = 3;
        ctx.beginPath();
        xTicks.forEach((v) => {
          const px = Math.round(xs.getPixelForValue(v)) + 0.5;
          ctx.moveTo(px, b);
          ctx.lineTo(px, b - TL);
          ctx.moveTo(px, t);
          ctx.lineTo(px, t + TL);
        });
        p.ticks.forEach((v) => {
          const py = Math.round(ys.getPixelForValue(v)) + 0.5;
          ctx.moveTo(l, py);
          ctx.lineTo(l + TL, py);
          ctx.moveTo(r, py);
          ctx.lineTo(r - TL, py);
        });
        ctx.stroke();
        // title
        ctx.fillStyle = "#000";
        ctx.font = `15.5px ${TITLE_FONT}`;
        ctx.textAlign = "center";
        ctx.textBaseline = "alphabetic";
        ctx.fillText(p.title, (chartArea.left + chartArea.right) / 2 + titleShift[idx], chartArea.top - 10);
        // exponent
        if (p.exp) {
          ctx.textAlign = "left";
          ctx.font = `12px ${TICK_FONT}`;
          const base = "x 10";
          const x0 = chartArea.left + 1;
          ctx.fillText(base, x0, chartArea.top - 7);
          const bw = ctx.measureText(base).width;
          ctx.font = `9px ${TICK_FONT}`;
          ctx.fillText(p.exp.replace("-", "\u2212"), x0 + bw + 0.5, chartArea.top - 14);
        }
        ctx.restore();
      },
    };
    const mk = (arr: number[]) => periods.map((x, i) => ({ x, y: arr[i] }));
    const chart = new Chart(ref.current as HTMLCanvasElement, {
      type: "line",
      data: {
        datasets: [
          { label: seriesNames[0], data: mk(p.series[0]), borderColor: "#000", borderWidth: 1, pointRadius: 0, fill: false, tension: 0, order: 3 },
          { label: seriesNames[1], data: mk(p.series[1]), borderColor: "#000", borderWidth: 1, borderDash: [7, 3, 1.5, 3], pointRadius: 0, fill: false, tension: 0, order: 2 },
          { label: seriesNames[2], data: mk(p.series[2]), borderColor: "#000", borderWidth: 1, borderDash: [2, 2], pointRadius: 0, fill: false, tension: 0, order: 1 },
          { label: seriesNames[3], data: mk(p.series[3]), showLine: false, pointRadius: 1.6, pointBackgroundColor: "#000", pointBorderColor: "#000", pointBorderWidth: 0, order: 0 },
        ],
      } as any,
      options: {
        animation: false,
        responsive: false,
        maintainAspectRatio: false,
        devicePixelRatio: 1,
        events: [],
        layout: { padding: { left: 0, right: PADR, top: PADT, bottom: 0 } },
        plugins: { legend: { display: false }, tooltip: { enabled: false }, title: { display: false } },
        scales: {
          x: {
            type: "linear",
            min: 0,
            max: 40,
            afterBuildTicks: (s: any) => {
              s.ticks = xTicks.map((v) => ({ value: v }));
            },
            afterFit: (s: any) => {
              s.height = PADB;
            },
            grid: { display: false, drawTicks: false },
            border: { display: false },
            ticks: { padding: 2, color: "#000", font: { family: TICK_FONT, size: 13 }, maxRotation: 0, autoSkip: false, callback: (v: any) => fmt(Number(v)) },
          },
          y: {
            type: "linear",
            min: p.ticks[0],
            max: p.ticks[p.ticks.length - 1],
            afterBuildTicks: (s: any) => {
              s.ticks = p.ticks.map((v) => ({ value: v }));
            },
            afterFit: (s: any) => {
              s.width = PADL;
            },
            grid: { display: false, drawTicks: false },
            border: { display: false },
            ticks: { padding: 5, color: "#000", font: { family: TICK_FONT, size: 13 }, autoSkip: false, callback: (v: any) => fmt(Number(v)) },
          },
        },
      } as any,
      plugins: [frame],
    });
    return () => chart.destroy();
  }, []);
  const cw = w + PADL + PADR;
  const ch = h + PADT + PADB;
  return (
    <canvas
      ref={ref}
      width={cw}
      height={ch}
      style={{ position: "absolute", left: left - PADL, top: top - PADT, width: cw, height: ch }}
    />
  );
}

function Legend() {
  const cy = 11;
  const txt: React.CSSProperties = { position: "absolute", top: 0, lineHeight: "21px", fontSize: 14, fontFamily: TITLE_FONT, whiteSpace: "nowrap", color: "#000" };
  return (
    <div style={{ position: "absolute", left: 120, top: 614, width: 783, height: 22, border: "1px solid #000", boxSizing: "border-box", background: "#fff" }}>
      <svg width={783} height={22} style={{ position: "absolute", left: 0, top: 0 }}>
        <line x1={5} x2={64} y1={cy - 1} y2={cy - 1} stroke="#000" strokeWidth={1} />
        <line x1={178} x2={216} y1={cy - 1} y2={cy - 1} stroke="#000" strokeWidth={1} strokeDasharray="7 3 1.5 3" />
        <line x1={369} x2={415} y1={cy - 1} y2={cy - 1} stroke="#000" strokeWidth={1} strokeDasharray="2 2" />
        <circle cx={572} cy={cy - 1} r={1.6} fill="#000" />
      </svg>
      <span style={{ ...txt, left: 70 }}>{seriesNames[0]}</span>
      <span style={{ ...txt, left: 222 }}>{seriesNames[1]}</span>
      <span style={{ ...txt, left: 420 }}>{seriesNames[2]}</span>
      <span style={{ ...txt, left: 620 }}>{seriesNames[3]}</span>
    </div>
  );
}

export default function App() {
  return (
    <div style={{ position: "absolute", left: 0, top: 0, width: 1000, height: 638, background: "#fff", overflow: "hidden" }}>
      {panels.map((p, i) => {
        const c = i % 4;
        const r = Math.floor(i / 4);
        return (
          <PanelChart
            key={i}
            p={p}
            idx={i}
            left={colLeft[c]}
            top={rowTop[r]}
            w={colRight[c] - colLeft[c]}
            h={rowBottom[r] - rowTop[r]}
          />
        );
      })}
      <Legend />
    </div>
  );
}
